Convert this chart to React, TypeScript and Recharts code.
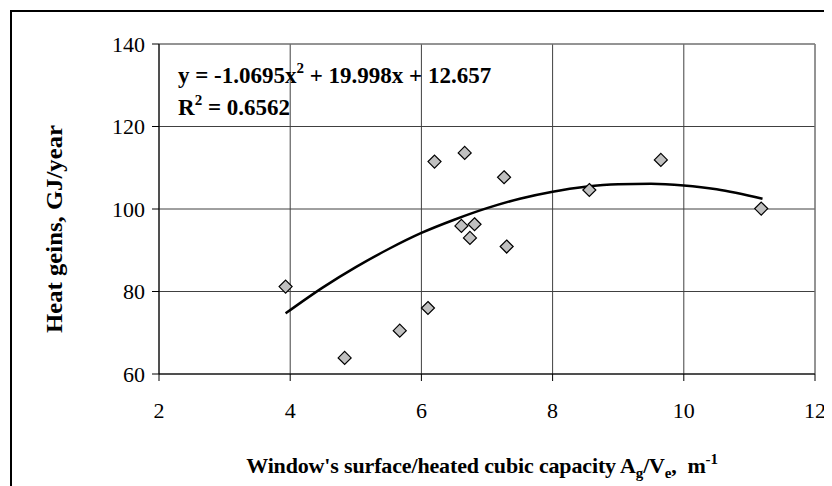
import React from 'react';
import { ComposedChart, Scatter, Line, XAxis, YAxis, CartesianGrid, ReferenceLine } from 'recharts';

// measured points (window/volume ratio vs heat gains)
const ratioX = [3.93, 4.83, 5.67, 6.1, 6.2, 6.61, 6.66, 6.74, 6.81, 7.26, 7.3, 8.56, 9.65, 11.18];
const gainsY = [81.2, 63.9, 70.5, 76.0, 111.5, 95.9, 113.6, 93.0, 96.3, 107.7, 90.9, 104.6, 111.9, 100.1];

// polynomial trend line
const trendX = [3.93, 4.5, 5, 5.5, 6, 6.5, 7, 7.5, 8, 8.5, 9, 9.5, 10, 10.5, 11.2];
const trendY = [74.7, 81.0, 85.9, 90.3, 94.2, 97.4, 100.2, 102.5, 104.2, 105.4, 106.0, 106.1, 105.7, 104.8, 102.5];

const xTicks = [2, 4, 6, 8, 10, 12];
const yTicks = [60, 80, 100, 120, 140];

const points = ratioX.map((x, i) => ({ x, y: gainsY[i] }));
const trend = trendX.map((x, i) => ({ x, y: trendY[i] }));

const FONT = '"Liberation Serif", "Times New Roman", serif';

const Diamond = (props: any) => {
  const { cx, cy } = props;
  if (cx == null || cy == null) return null;
  const r = 6.5;
  return (
    <path
      d={`M${cx},${cy - r}L${cx + r},${cy}L${cx},${cy + r}L${cx - r},${cy}Z`}
      fill="#c0c0c0"
      stroke="#000"
      strokeWidth={1.2}
    />
  );
};

const XTitle = () => (
  <text x={474} y={465} textAnchor="middle" fontFamily={FONT} fontWeight="bold" fontSize={22} fill="#000" letterSpacing={-0.15} style={{ whiteSpace: 'pre' }}>
    Window's surface/heated cubic capacity A
    <tspan dy={5} fontSize={15}>g</tspan>
    <tspan dy={-5}>/V</tspan>
    <tspan dy={5} fontSize={15}>e</tspan>
    <tspan dy={-5}>,  m</tspan>
    <tspan dy={-9} fontSize={15}>-1</tspan>
  </text>
);

const YTitle = () => (
  <text x={0} y={0} transform="translate(54,221) rotate(-90)" textAnchor="middle" fontFamily={FONT} fontWeight="bold" fontSize={24} fill="#000" textLength={208} lengthAdjust="spacingAndGlyphs">
    Heat geins, GJ/year
  </text>
);

const Equation = () => (
  <g fontFamily={FONT} fontWeight="bold" fontSize={23} fill="#000">
    <text x={170} y={75} style={{ whiteSpace: 'pre' }}>
      y = -1.0695x<tspan dy={-10} fontSize={15}>2</tspan>
      <tspan dy={10}> + 19.998x + 12.657</tspan>
    </text>
    <text x={170} y={107} style={{ whiteSpace: 'pre' }}>
      R<tspan dy={-10} fontSize={15}>2</tspan>
      <tspan dy={10}> = 0.6562</tspan>
    </text>
  </g>
);

export default function App() {
  return (
    <div style={{ position: 'relative', width: 824, height: 478, overflow: 'hidden' }}>
      <div style={{ position: 'absolute', left: 2, top: 2, width: 900, height: 600, borderLeft: '2px solid #000', borderTop: '2px solid #000' }} />
      <div style={{ position: 'absolute', left: 0, top: 0 }}>
        <ComposedChart width={824} height={478} margin={{ top: 36, right: 17, bottom: 72, left: 91 }}>
          <CartesianGrid stroke="#404040" strokeWidth={1} />
          <XAxis
            type="number"
            dataKey="x"
            domain={[2, 12]}
            ticks={xTicks}
            height={40}
            tickSize={7}
            tickMargin={21}
            axisLine={{ stroke: '#000' }}
            tickLine={{ stroke: '#000' }}
            tick={{ fill: '#000', fontSize: 22, fontFamily: FONT }}
            allowDataOverflow
            label={{ content: () => <XTitle /> }}
          />
          <YAxis
            type="number"
            dataKey="y"
            domain={[60, 140]}
            ticks={yTicks}
            width={60}
            tickSize={7}
            tickMargin={7}
            axisLine={{ stroke: '#000' }}
            tickLine={{ stroke: '#000' }}
            tick={{ fill: '#000', fontSize: 22, fontFamily: FONT }}
            allowDataOverflow
            label={{ content: () => <YTitle /> }}
          />
          <ReferenceLine y={140} stroke="#888" />
          <ReferenceLine x={12} stroke="#888" />
          <Line data={trend} dataKey="y" type="monotone" stroke="#000" strokeWidth={2.5} dot={false} isAnimationActive={false} />
          <Scatter data={points} dataKey="y" shape={<Diamond />} isAnimationActive={false} />
          <Equation />
        </ComposedChart>
      </div>
    </div>
  );
}
